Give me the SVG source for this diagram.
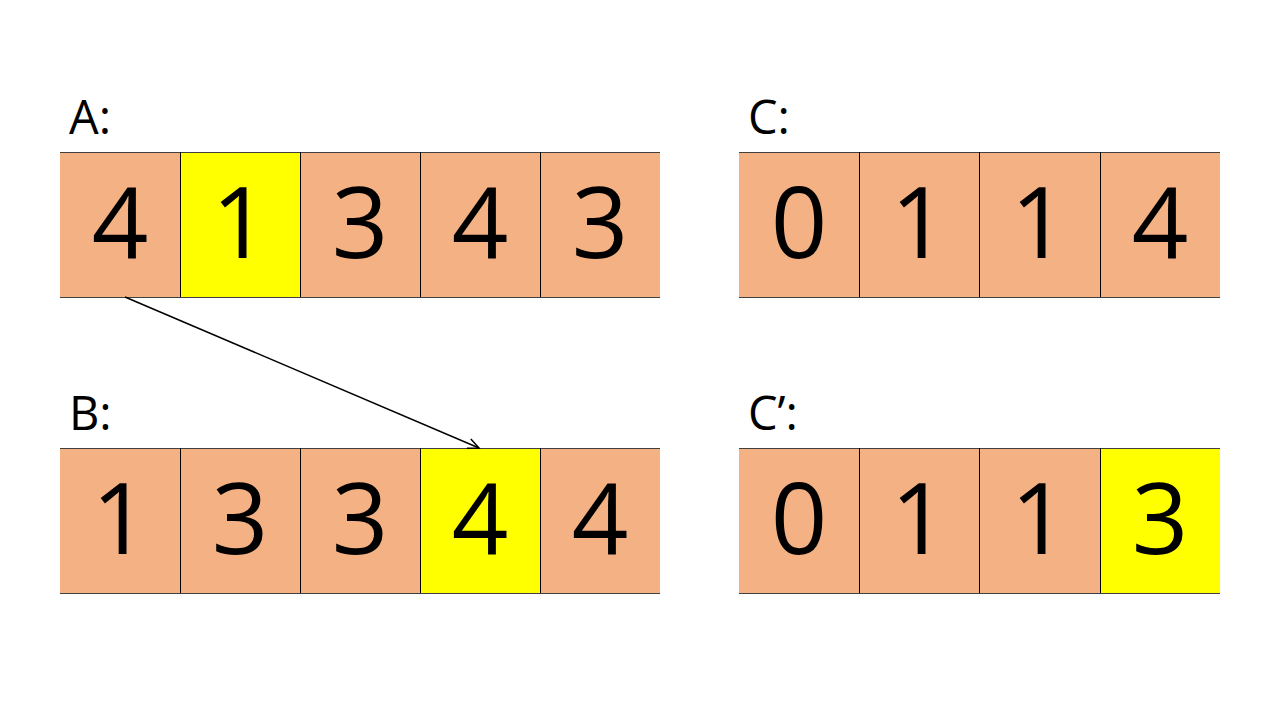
<svg xmlns="http://www.w3.org/2000/svg" width="1280" height="720" viewBox="0 0 1280 720">
  <defs>
    <style>
      .cell { fill: #f4b183; }
      .hl { fill: #ffff00; }
      .hline { stroke: #404040; stroke-width: 1.2; }
      .vline { stroke: #000; stroke-width: 1; }
      .num { font-family: "Open Sans", "DejaVu Sans", sans-serif; font-size: 99px; fill: #000; text-anchor: middle; }
      .label { font-family: "Open Sans", "DejaVu Sans", sans-serif; font-size: 47px; fill: #000; }
      .conn { stroke: #000; stroke-width: 1.5; fill: none; }
    </style>
    <marker id="open-arrow" markerWidth="14" markerHeight="12" refX="12" refY="6" orient="auto" markerUnits="userSpaceOnUse">
      <path d="M1,1 L12,6 L1,11" fill="none" stroke="#000" stroke-width="1.5"/>
    </marker>
  </defs>
  <rect width="1280" height="720" fill="#fff"/>

  <!-- array A -->
  <g id="arrayA">
    <text class="label" x="69" y="134">A:</text>
    <rect class="cell" x="60" y="152" width="120" height="145"/>
    <rect class="hl" x="180" y="152" width="120" height="145"/>
    <rect class="cell" x="300" y="152" width="120" height="145"/>
    <rect class="cell" x="420" y="152" width="120" height="145"/>
    <rect class="cell" x="540" y="152" width="120" height="145"/>
    <line class="hline" x1="60" y1="152.5" x2="660" y2="152.5"/>
    <line class="hline" x1="60" y1="297.5" x2="660" y2="297.5"/>
    <line class="vline" x1="180.5" y1="152" x2="180.5" y2="297"/>
    <line class="vline" x1="300.5" y1="152" x2="300.5" y2="297"/>
    <line class="vline" x1="420.5" y1="152" x2="420.5" y2="297"/>
    <line class="vline" x1="540.5" y1="152" x2="540.5" y2="297"/>
    <text class="num" x="120" y="258">4</text>
    <text class="num" x="240" y="258">1</text>
    <text class="num" x="360" y="258">3</text>
    <text class="num" x="480" y="258">4</text>
    <text class="num" x="600" y="258">3</text>
  </g>

  <!-- array B -->
  <g id="arrayB">
    <text class="label" x="69" y="430">B:</text>
    <rect class="cell" x="60" y="448" width="120" height="145"/>
    <rect class="cell" x="180" y="448" width="120" height="145"/>
    <rect class="cell" x="300" y="448" width="120" height="145"/>
    <rect class="hl" x="420" y="448" width="120" height="145"/>
    <rect class="cell" x="540" y="448" width="120" height="145"/>
    <line class="hline" x1="60" y1="448.5" x2="660" y2="448.5"/>
    <line class="hline" x1="60" y1="593.5" x2="660" y2="593.5"/>
    <line class="vline" x1="180.5" y1="448" x2="180.5" y2="593"/>
    <line class="vline" x1="300.5" y1="448" x2="300.5" y2="593"/>
    <line class="vline" x1="420.5" y1="448" x2="420.5" y2="593"/>
    <line class="vline" x1="540.5" y1="448" x2="540.5" y2="593"/>
    <text class="num" x="120" y="554">1</text>
    <text class="num" x="240" y="554">3</text>
    <text class="num" x="360" y="554">3</text>
    <text class="num" x="480" y="554">4</text>
    <text class="num" x="600" y="554">4</text>
  </g>

  <!-- array C -->
  <g id="arrayC">
    <text class="label" x="748" y="134">C:</text>
    <rect class="cell" x="739" y="152" width="120" height="145"/>
    <rect class="cell" x="859" y="152" width="120" height="145"/>
    <rect class="cell" x="979" y="152" width="121" height="145"/>
    <rect class="cell" x="1100" y="152" width="120" height="145"/>
    <line class="hline" x1="739" y1="152.5" x2="1220" y2="152.5"/>
    <line class="hline" x1="739" y1="297.5" x2="1220" y2="297.5"/>
    <line class="vline" x1="859.5" y1="152" x2="859.5" y2="297"/>
    <line class="vline" x1="979.5" y1="152" x2="979.5" y2="297"/>
    <line class="vline" x1="1100.5" y1="152" x2="1100.5" y2="297"/>
    <text class="num" x="799" y="258">0</text>
    <text class="num" x="919" y="258">1</text>
    <text class="num" x="1039" y="258">1</text>
    <text class="num" x="1160" y="258">4</text>
  </g>

  <!-- array C' -->
  <g id="arrayCprime">
    <text class="label" x="748" y="430">C’:</text>
    <rect class="cell" x="739" y="448" width="120" height="145"/>
    <rect class="cell" x="859" y="448" width="120" height="145"/>
    <rect class="cell" x="979" y="448" width="121" height="145"/>
    <rect class="hl" x="1100" y="448" width="120" height="145"/>
    <line class="hline" x1="739" y1="448.5" x2="1220" y2="448.5"/>
    <line class="hline" x1="739" y1="593.5" x2="1220" y2="593.5"/>
    <line class="vline" x1="859.5" y1="448" x2="859.5" y2="593"/>
    <line class="vline" x1="979.5" y1="448" x2="979.5" y2="593"/>
    <line class="vline" x1="1100.5" y1="448" x2="1100.5" y2="593"/>
    <text class="num" x="799" y="554">0</text>
    <text class="num" x="919" y="554">1</text>
    <text class="num" x="1039" y="554">1</text>
    <text class="num" x="1160" y="554">3</text>
  </g>

  <!-- connectors -->
  <g id="connectors">
    <line class="conn" x1="125" y1="297" x2="479" y2="448" marker-end="url(#open-arrow)"/>
  </g>
</svg>
